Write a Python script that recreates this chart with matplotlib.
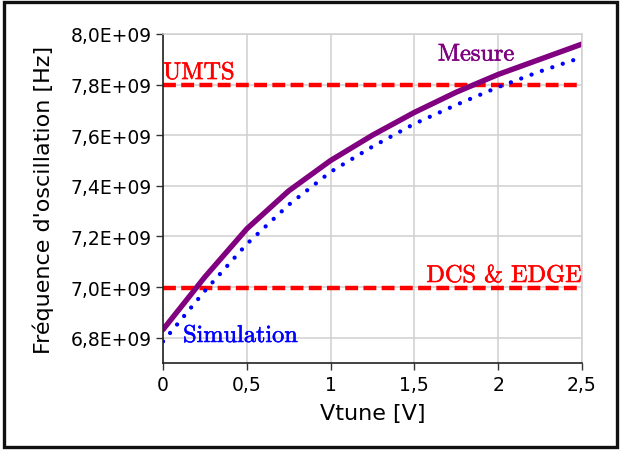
import numpy as np
import matplotlib
matplotlib.use('Agg')
import matplotlib.pyplot as plt
import matplotlib.patheffects as pe
from matplotlib.patches import Rectangle

# Data
vtune = [0.0, 0.25, 0.5, 0.75, 1.0, 1.25, 1.5, 1.75, 2.0, 2.25, 2.5]
f_mesure = [6.832e9, 7.04e9, 7.23e9, 7.38e9, 7.50e9, 7.60e9, 7.69e9, 7.77e9, 7.84e9, 7.90e9, 7.96e9]
f_simulation = [6.785e9, 6.985e9, 7.17e9, 7.325e9, 7.455e9, 7.555e9, 7.645e9, 7.72e9, 7.79e9, 7.852e9, 7.908e9]

f_umts = 7.8e9
f_dcs = 6.995e9

xticks = [0, 0.5, 1, 1.5, 2, 2.5]
xticklabels = ['0', '0,5', '1', '1,5', '2', '2,5']
yticks = [6.8e9, 7.0e9, 7.2e9, 7.4e9, 7.6e9, 7.8e9, 8.0e9]
yticklabels = ['6,8E+09', '7,0E+09', '7,2E+09', '7,4E+09', '7,6E+09', '7,8E+09', '8,0E+09']

fig = plt.figure(figsize=(6.21, 4.52), dpi=100)
ax = fig.add_axes([0.2625, 0.1947, 0.6745, 0.7279])

grid_col = '#d0d0d0'
ax.set_axisbelow(True)
ax.grid(True, color=grid_col, linewidth=1.1)

ax.axhline(f_umts, color='red', linewidth=3.2, linestyle=(0, (2.9, 1.2)))
ax.axhline(f_dcs, color='red', linewidth=3.2, linestyle=(0, (2.9, 1.2)))

ax.plot(vtune, f_simulation, color='blue', linewidth=3.1,
        linestyle=(0, (0.01, 2.55)), dash_capstyle='round')
ax.plot(vtune, f_mesure, color='purple', linewidth=3.9, solid_capstyle='round')

# curve / band labels (Computer Modern, slightly emboldened)
serif = 'cmr10'
labels = [
    (0.0, 7.822e9, 'UMTS', 'red', 'left'),
    (2.5, 7.02e9, 'DCS & EDGE', 'red', 'right'),
    (1.64, 7.895e9, 'Mesure', 'purple', 'left'),
    (0.12, 6.783e9, 'Simulation', 'blue', 'left'),
]
for x, y, s, c, ha in labels:
    ax.text(x, y, s, color=c, fontsize=17.5, family=serif, ha=ha, va='baseline',
            path_effects=[pe.withStroke(linewidth=0.4, foreground=c)])

ax.set_xlim(0, 2.5)
ax.set_ylim(6.7e9, 8.0e9)
ax.set_xticks(xticks)
ax.set_xticklabels(xticklabels)
ax.set_yticks(yticks)
ax.set_yticklabels(yticklabels)
ax.tick_params(axis='both', labelsize=13.5, length=5, width=1, color='#333333', pad=3)
ax.tick_params(axis='x', pad=4)

for side in ['top', 'right']:
    ax.spines[side].set_color(grid_col)
    ax.spines[side].set_linewidth(1.1)
for side in ['left', 'bottom']:
    ax.spines[side].set_color('#222222')
    ax.spines[side].set_linewidth(1.2)

ax.set_xlabel('Vtune [V]', fontsize=16, labelpad=6)
ax.set_ylabel("Fréquence d'oscillation [Hz]", fontsize=16, labelpad=12)

# outer frame
fig.patches.append(Rectangle((0.006, 0.009), 0.988, 0.984, transform=fig.transFigure,
                             fill=False, edgecolor='#111111', linewidth=2.4))

fig.savefig('out.png', dpi=100)
